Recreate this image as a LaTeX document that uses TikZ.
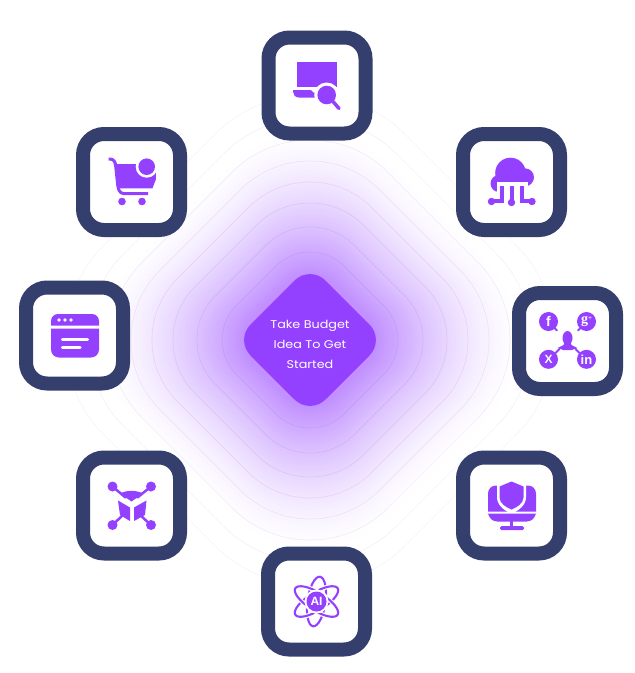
\documentclass[tikz,border=0pt]{standalone}
\usepackage{fontspec}
\setmainfont{Liberation Sans}
\newfontfamily\wideface[FakeStretch=1.14]{Poppins}
\newfontfamily\serifface{Liberation Serif}
\usetikzlibrary{shapes.geometric}
\definecolor{vio}{HTML}{9440FF}
\definecolor{navy}{HTML}{353F6E}
\definecolor{ringc}{HTML}{6A5AA0}
\tikzset{
  tile/.style={draw=navy,line width=14pt,fill=white,rounded corners=21pt,minimum width=97pt,minimum height=96pt,inner sep=0pt,outer sep=0pt},
  hub/.style={diamond,fill=vio,rounded corners=22pt,minimum width=150pt,minimum height=150pt,inner sep=0pt,outer sep=0pt},
  hubtext/.style={text=white,align=center,inner sep=0pt,font=\wideface\fontsize{11.2pt}{20pt}\selectfont},
  ink/.style={fill=vio,draw=none},
  wire/.style={draw=vio,line width=2.5pt,line cap=round},
  knock/.style={fill=white,draw=none},
  ringline/.style={draw=ringc,line width=.5pt},
  letter/.style={text=white,inner sep=0pt,font=\bfseries\fontsize{12pt}{12pt}\selectfont}
}
\begin{document}
\begin{tikzpicture}[x=1pt,y=-1pt]
\useasboundingbox (0,0) rectangle (635,673);
\fill[white] (0,0) rectangle (635,673);
% glow
\foreach \k in {0,...,100}{
  \pgfmathsetmacro\rr{212-\k*1.45}
  \pgfmathsetmacro\tt{(\rr-66)/146}
  \pgfmathsetmacro\pct{58*(1-\tt)*sqrt(1-\tt)}
  \pgfmathsetmacro\ra{\rr*1.228}
  \pgfmathsetmacro\rb{\rr*.55}
  \fill[vio!\pct!white,rounded corners=\rb pt] (310-\ra,340)--(310,340-\ra)--(310+\ra,340)--(310,340+\ra)--cycle;
}
% rings
\foreach \rr/\op in {88/.16,113/.16,137/.15,158/.14,179/.13,200/.12,222/.10,245/.08}{
  \pgfmathsetmacro\ra{\rr*1.228}
  \pgfmathsetmacro\rb{\rr*.55}
  \draw[ringline,opacity=\op,rounded corners=\rb pt] (310-\ra,340)--(310,340-\ra)--(310+\ra,340)--(310,340+\ra)--cycle;
}
\node[hub] (hub) at (310,340) {};
\node[hubtext] (hubt) at (310,344.5) {Take Budget\\Idea To Get\\Started};
% tiles
\node[tile] (search) at (317,85.5) {};
\node[tile] (cart) at (131.5,182) {};
\node[tile] (cloud) at (511.5,182) {};
\node[tile] (social) at (567.5,341) {};
\node[tile] (monitor) at (511.5,505.5) {};
\node[tile] (atom) at (316.5,601.5) {};
\node[tile] (cube) at (131.5,505.5) {};
\node[tile] (window) at (74.5,335.5) {};
% search icon
\begin{scope}[shift={(search.center)}]
  \fill[ink] (-20,-23.5) rectangle (20,1);
  \fill[ink] (-24,4.5) -- (-6,4.5) -- (-3.5,7) -- (0,7) -- (0,12) -- (-18,12) .. controls (-22,12) and (-24,9) .. (-24,6) -- cycle;
  \fill[knock] (9.7,9.5) circle (12.5pt);
  \fill[ink] (9.7,9.5) circle (9.3pt);
  \draw[wire,line width=3.5pt] (16,16) -- (22,23);
\end{scope}
% cart icon
\begin{scope}[shift={(cart.center)}]
  \draw[wire,line width=3pt,rounded corners=3pt,line cap=butt] (-23,-23) -- (-18,-23) -- (-16,-18) -- (-13.5,6) -- (-11,11.5) -- (16.5,11.5);
  \fill[ink] (-16.5,-18) -- (24,-18) -- (24.5,-3) -- (21,6.3) -- (-12,6.3) -- cycle;
  \fill[knock] (15.2,-15.3) circle (11pt);
  \fill[ink] (15.2,-15.3) circle (8.3pt);
  \fill[ink] (-9.5,19.5) circle (3.8pt);
  \fill[ink] (10.5,19.5) circle (3.8pt);
\end{scope}
% cloud icon
\begin{scope}[shift={(cloud.center)}]
  \fill[ink] (-1,-9) circle (15.3pt);
  \fill[ink] (-12.5,1.5) circle (8.5pt);
  \fill[ink] (13.5,-4.7) circle (9pt);
  \fill[ink] (-15,-9) rectangle (16,1);
  \fill[knock] (-15,0) rectangle (16,14);
  \draw[wire,line width=4pt,line cap=butt] (-10,4) -- (-10,18.5) -- (-20,18.5);
  \draw[wire,line width=4pt,line cap=butt] (0,4) -- (0,20);
  \draw[wire,line width=4pt,line cap=butt] (10,4) -- (10,18.5) -- (20,18.5);
  \fill[ink] (-20,19.5) circle (3.7pt);
  \fill[ink] (0,20.5) circle (3.7pt);
  \fill[ink] (20.5,19.5) circle (3.7pt);
\end{scope}
% social icon
\begin{scope}[shift={(social.center)}]
  \fill[ink] (-19,-19.5) circle (9.5pt);
  \fill[ink] (19,-19.5) circle (9.5pt);
  \fill[ink] (-19,18.3) circle (9.5pt);
  \fill[ink] (19,18.3) circle (9.5pt);
  \draw[wire,line width=1.8pt] (-13,-13) -- (-10.5,-10.5);
  \draw[wire,line width=1.8pt] (13,-13) -- (10.5,-10.5);
  \draw[wire,line width=1.8pt] (-8,8) -- (-12,12);
  \draw[wire,line width=1.8pt] (8,8) -- (12,12);
  \fill[ink] (0,-3) ellipse (5pt and 7pt);
  \fill[ink] (-3,1) -- (3,1) -- (4,4) -- (10,7) -- (4,9) -- (-4,9) -- (-10,7) -- (-4,4) -- cycle;
  \node[letter,font=\bfseries\fontsize{14pt}{14pt}\selectfont] (lf) at (-19,-19.5) {f};
  \node[letter,font=\serifface\bfseries\fontsize{14pt}{14pt}\selectfont] (lg) at (19,-19.5) {g\raisebox{3pt}{\fontsize{7pt}{7pt}\selectfont+}};
  \node[letter] (lx) at (-19,18.3) {X};
  \node[letter,font=\bfseries\fontsize{13pt}{13pt}\selectfont] (lin) at (19,18.3) {in};
\end{scope}
% monitor icon
\begin{scope}[shift={(monitor.center)}]
  \fill[ink] (-23.5,6) [rounded corners=8pt] -- (-23.5,-20) -- (24.5,-20) [sharp corners] -- (24.5,6) -- cycle;
  \fill[knock] (0,-27) -- (14.5,-21) -- (14.5,-8) .. controls (14.5,0) and (6,6) .. (0,8) .. controls (-6,6) and (-14.5,0) .. (-14.5,-8) -- (-14.5,-21) -- cycle;
  \fill[ink] (0,-24) -- (12,-19) -- (12,-8) .. controls (12,-2) and (5,2) .. (0,4) .. controls (-5,2) and (-12,-2) .. (-12,-8) -- (-12,-19) -- cycle;
  \fill[ink] (-23.5,8) -- (24.5,8) .. controls (23,13) and (20,16) .. (15,16) -- (-14,16) .. controls (-19,16) and (-22,13) .. (-23.5,8) -- cycle;
  \fill[ink] (-1.5,15) rectangle (1.8,21);
  \fill[ink,rounded corners=1.5pt] (-11.5,20.5) rectangle (12.5,24.5);
\end{scope}
% atom icon
\begin{scope}[shift={(atom.center)}]
  \foreach \ang in {82,32,-32}{
    \draw[white,line width=4.4pt,rotate=\ang] (0,0) ellipse (25pt and 9pt);
    \draw[vio,line width=2.1pt,rotate=\ang] (0,0) ellipse (25pt and 9pt);
  }
  \fill[knock] (0,0) circle (12pt);
  \fill[ink] (0,0) circle (10pt);
  \node[letter] (ai) at (0,0) {AI};
\end{scope}
% cube icon
\begin{scope}[shift={(cube.center)}]
  \draw[wire] (-19,-19) -- (-6,-8);
  \draw[wire] (19.5,-19) -- (6,-8);
  \draw[wire] (-19,19.5) -- (-8,9);
  \draw[wire] (19.5,19.5) -- (8,9);
  \fill[ink] (-19,-19) circle (5pt);
  \fill[ink] (19.5,-19) circle (5pt);
  \fill[ink] (-19,19.5) circle (5pt);
  \fill[ink] (19.5,19.5) circle (5pt);
  \fill[ink] (-11.5,-12) .. controls (-5,-15.5) and (5,-15.5) .. (11.5,-12) -- (0,-4) -- cycle;
  \fill[ink] (-13.5,-5) -- (-1.5,2) -- (-1.5,15.5) -- (-11.5,9.5) -- cycle;
  \fill[ink] (15,-5) -- (2.5,2) -- (2.5,15.5) -- (13.5,9.5) -- cycle;
\end{scope}
% window icon
\begin{scope}[shift={(window.center)}]
  \fill[ink] (-23.5,-10) [rounded corners=7pt] -- (-23.5,-21.5) -- (24.5,-21.5) [sharp corners] -- (24.5,-10) -- cycle;
  \fill[ink] (-23.5,-7) -- (24.5,-7) [rounded corners=8pt] -- (24.5,22) -- (-23.5,22) [sharp corners] -- (-23.5,-7) -- cycle;
  \fill[knock] (-15.5,-15.5) circle (1.9pt);
  \fill[knock] (-9.5,-15.5) circle (1.9pt);
  \fill[knock] (-3.5,-15.5) circle (1.9pt);
  \draw[white,line width=3.3pt,line cap=round] (-12,4.2) -- (13,4.2);
  \draw[white,line width=3.3pt,line cap=round] (-12,12.2) -- (5.5,12.2);
\end{scope}
\end{tikzpicture}
\end{document}
